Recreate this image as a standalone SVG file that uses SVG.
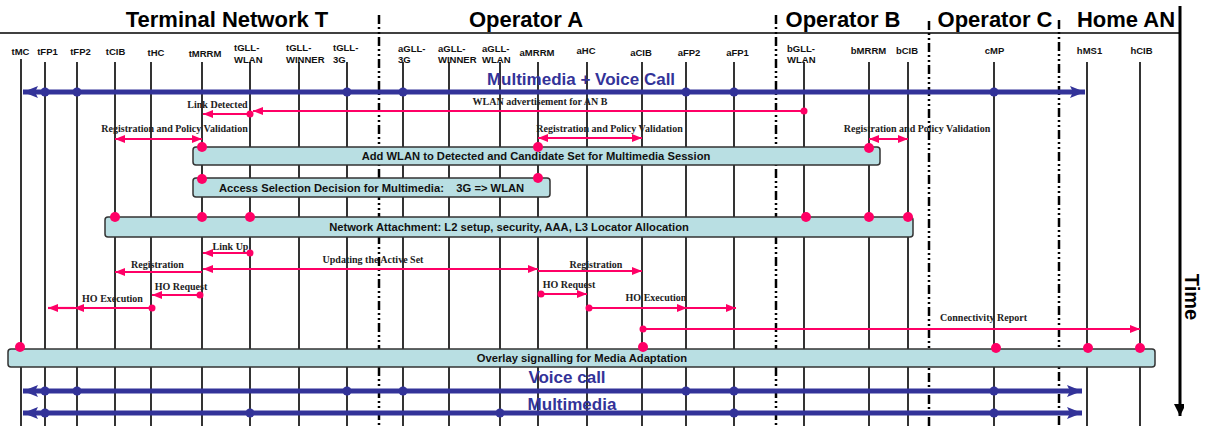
<svg xmlns="http://www.w3.org/2000/svg" width="1207" height="428" viewBox="0 0 1207 428">
<style>
.title{font-family:"Liberation Sans",Arial,sans-serif;font-weight:bold;font-size:22px;fill:#000}
.ll{font-family:"Liberation Sans",Arial,sans-serif;font-weight:bold;font-size:9.5px;fill:#111}
.life{stroke:#000;stroke-width:1.6;fill:none}
.div{stroke:#000;stroke-width:2.5;stroke-dasharray:9 3 2 3 2 3;fill:none}
.box{fill:#B9DFE3;stroke:#333;stroke-width:1.5}
.bt{font-family:"Liberation Sans",Arial,sans-serif;font-weight:bold;font-size:11.2px;fill:#111;text-anchor:middle;white-space:pre}
.msg{stroke:#FF0066;stroke-width:2.2;fill:none}
.ml{font-family:"Liberation Serif","Times New Roman",serif;font-weight:bold;font-size:10px;fill:#222;text-anchor:middle}
.dot{fill:#FF0066}
.blue{stroke:#333399;stroke-width:5;fill:none}
.bdot{fill:#333399}
.bl{font-family:"Liberation Sans",Arial,sans-serif;font-weight:bold;font-size:17px;fill:#333399;text-anchor:middle}
</style>
<defs>
<marker id="ah" markerUnits="userSpaceOnUse" viewBox="0 0 10 8" refX="10" refY="4" markerWidth="10" markerHeight="8" orient="auto-start-reverse"><path d="M0,0 L10,4 L0,8 z" fill="#FF0066"/></marker>
<marker id="bh" markerUnits="userSpaceOnUse" viewBox="0 0 15 12" refX="15" refY="6" markerWidth="15" markerHeight="12" orient="auto-start-reverse"><path d="M0,0 L15,6 L0,12 L3,6 z" fill="#333399"/></marker>
<marker id="th" markerUnits="userSpaceOnUse" viewBox="0 0 10 12" refX="6" refY="12" markerWidth="10" markerHeight="12" orient="0"><path d="M0,0 L12,0 L6,12 z" fill="#000"/></marker>
</defs>

<g id="header">
<line x1="0" y1="33" x2="1180" y2="33" stroke="#000" stroke-width="1.5"/>
<text class="title" x="227" y="27" text-anchor="middle">Terminal Network T</text>
<text class="title" x="526" y="27" text-anchor="middle">Operator A</text>
<text class="title" x="843" y="27" text-anchor="middle">Operator B</text>
<text class="title" x="995" y="27" text-anchor="middle">Operator C</text>
<text class="title" x="1126" y="27" text-anchor="middle">Home AN</text>
</g>

<g id="dividers">
<line class="div" x1="379" y1="15" x2="379" y2="428"/>
<line class="div" x1="776" y1="15" x2="776" y2="428"/>
<line class="div" x1="929" y1="21" x2="929" y2="428"/>
<line class="div" x1="1059" y1="20" x2="1059" y2="428"/>
</g>

<g id="time-axis">
<line x1="1180" y1="6" x2="1180" y2="416" stroke="#000" stroke-width="3" marker-end="url(#th)"/>
<text transform="translate(1185,297) rotate(90)" text-anchor="middle" font-family="Liberation Sans, Arial, sans-serif" font-weight="bold" font-size="20">Time</text>
</g>

<g id="lifelines">
<g id="tMC"><text class="ll" x="20.5" y="55" text-anchor="middle">tMC</text><line class="life" x1="21" y1="59" x2="21" y2="426"/></g>
<g id="tFP1"><text class="ll" x="47.5" y="55" text-anchor="middle">tFP1</text><line class="life" x1="45" y1="62" x2="45" y2="426"/></g>
<g id="tFP2"><text class="ll" x="80.5" y="55" text-anchor="middle">tFP2</text><line class="life" x1="77" y1="62" x2="77" y2="426"/></g>
<g id="tCIB"><text class="ll" x="115.5" y="55" text-anchor="middle">tCIB</text><line class="life" x1="115" y1="62" x2="115" y2="426"/></g>
<g id="tHC"><text class="ll" x="156" y="56" text-anchor="middle">tHC</text><line class="life" x1="151" y1="62" x2="151" y2="426"/></g>
<g id="tMRRM"><text class="ll" x="205" y="57" text-anchor="middle">tMRRM</text><line class="life" x1="202" y1="62" x2="202" y2="426"/></g>
<g id="tGLL-WLAN"><text class="ll" x="234" y="51">tGLL-</text><text class="ll" x="234" y="63">WLAN</text><line class="life" x1="250" y1="62" x2="250" y2="426"/></g>
<g id="tGLL-WINNER"><text class="ll" x="286" y="51">tGLL-</text><text class="ll" x="286" y="63">WINNER</text><line class="life" x1="299" y1="62" x2="299" y2="426"/></g>
<g id="tGLL-3G"><text class="ll" x="333" y="51">tGLL-</text><text class="ll" x="333" y="63">3G</text><line class="life" x1="347" y1="62" x2="347" y2="426"/></g>
<g id="aGLL-3G"><text class="ll" x="398" y="52">aGLL-</text><text class="ll" x="398" y="63">3G</text><line class="life" x1="403" y1="62" x2="403" y2="426"/></g>
<g id="aGLL-WINNER"><text class="ll" x="438" y="52">aGLL-</text><text class="ll" x="438" y="63">WINNER</text><line class="life" x1="449" y1="62" x2="449" y2="426"/></g>
<g id="aGLL-WLAN"><text class="ll" x="482" y="52">aGLL-</text><text class="ll" x="482" y="63">WLAN</text><line class="life" x1="500" y1="62" x2="500" y2="426"/></g>
<g id="aMRRM"><text class="ll" x="537" y="56" text-anchor="middle">aMRRM</text><line class="life" x1="538" y1="62" x2="538" y2="426"/></g>
<g id="aHC"><text class="ll" x="586" y="54" text-anchor="middle">aHC</text><line class="life" x1="587" y1="62" x2="587" y2="426"/></g>
<g id="aCIB"><text class="ll" x="641" y="56" text-anchor="middle">aCIB</text><line class="life" x1="642" y1="62" x2="642" y2="426"/></g>
<g id="aFP2"><text class="ll" x="689" y="56" text-anchor="middle">aFP2</text><line class="life" x1="686" y1="62" x2="686" y2="426"/></g>
<g id="aFP1"><text class="ll" x="737.5" y="56" text-anchor="middle">aFP1</text><line class="life" x1="734" y1="62" x2="734" y2="426"/></g>
<g id="bGLL-WLAN"><text class="ll" x="787" y="52">bGLL-</text><text class="ll" x="787" y="63">WLAN</text><line class="life" x1="804" y1="62" x2="804" y2="426"/></g>
<g id="bMRRM"><text class="ll" x="868.5" y="54" text-anchor="middle">bMRRM</text><line class="life" x1="869" y1="62" x2="869" y2="426"/></g>
<g id="bCIB"><text class="ll" x="907" y="54" text-anchor="middle">bCIB</text><line class="life" x1="908" y1="62" x2="908" y2="426"/></g>
<g id="cMP"><text class="ll" x="994.5" y="54" text-anchor="middle">cMP</text><line class="life" x1="994" y1="62" x2="994" y2="426"/></g>
<g id="hMS1"><text class="ll" x="1089.5" y="54" text-anchor="middle">hMS1</text><line class="life" x1="1087" y1="62" x2="1087" y2="426"/></g>
<g id="hCIB"><text class="ll" x="1141.5" y="54" text-anchor="middle">hCIB</text><line class="life" x1="1140" y1="62" x2="1140" y2="426"/></g>
</g>

<g id="box-add-wlan">
<rect class="box" x="193" y="147" width="687" height="18" rx="3"/>
<text class="bt" x="536" y="160">Add WLAN to Detected and Candidate Set for Multimedia Session</text>
</g>
<g id="box-access-selection">
<rect class="box" x="193" y="178" width="357" height="19" rx="3"/>
<text class="bt" x="371.5" y="192">Access Selection Decision for Multimedia:    3G =&gt; WLAN</text>
</g>
<g id="box-network-attachment">
<rect class="box" x="105" y="217" width="808" height="20" rx="3"/>
<text class="bt" x="509" y="231">Network Attachment: L2 setup, security, AAA, L3 Locator Allocation</text>
</g>
<g id="box-overlay">
<rect class="box" x="8" y="349" width="1147" height="18" rx="3"/>
<text class="bt" x="582" y="362">Overlay signalling for Media Adaptation</text>
</g>

<g id="connectors">
<!-- blue bearer flows -->
<line class="blue" x1="23" y1="92" x2="1085" y2="92" marker-start="url(#bh)" marker-end="url(#bh)"/>
<line class="blue" x1="23" y1="391" x2="1082" y2="391" marker-start="url(#bh)" marker-end="url(#bh)"/>
<line class="blue" x1="23" y1="413" x2="1082" y2="413" marker-start="url(#bh)" marker-end="url(#bh)"/>
<g class="bdot">
<circle cx="45" cy="92" r="4.5"/><circle cx="77" cy="92" r="4.5"/><circle cx="347" cy="92" r="4.5"/><circle cx="403" cy="92" r="4.5"/><circle cx="686" cy="92" r="4.5"/><circle cx="734" cy="92" r="4.5"/><circle cx="994" cy="92" r="4.5"/>
<circle cx="45" cy="391" r="4.5"/><circle cx="77" cy="391" r="4.5"/><circle cx="347" cy="391" r="4.5"/><circle cx="403" cy="391" r="4.5"/><circle cx="686" cy="391" r="4.5"/><circle cx="734" cy="391" r="4.5"/><circle cx="994" cy="391" r="4.5"/>
<circle cx="45" cy="413" r="4.5"/><circle cx="250" cy="413" r="4.5"/><circle cx="500" cy="413" r="4.5"/><circle cx="734" cy="413" r="4.5"/><circle cx="994" cy="413" r="4.5"/>
</g>
<text class="bl" x="581" y="85">Multimedia + Voice Call</text>
<text class="bl" x="567" y="383">Voice call</text>
<text class="bl" x="572" y="410">Multimedia</text>

<!-- red signalling -->
<line class="msg" x1="804" y1="111" x2="253" y2="111" marker-end="url(#ah)"/>
<circle class="dot" cx="804" cy="111" r="3.5"/>
<text class="ml" x="540" y="105">WLAN advertisement for AN B</text>

<line class="msg" x1="250" y1="114" x2="203" y2="114" marker-end="url(#ah)"/>
<circle class="dot" cx="250" cy="114" r="3.5"/>
<text class="ml" x="217.5" y="108">Link Detected</text>

<line class="msg" x1="115" y1="139" x2="202" y2="139" marker-start="url(#ah)" marker-end="url(#ah)"/>
<text class="ml" x="174.5" y="132">Registration and Policy Validation</text>

<line class="msg" x1="538" y1="138" x2="642" y2="138" marker-start="url(#ah)" marker-end="url(#ah)"/>
<text class="ml" x="609.5" y="132">Registration and Policy Validation</text>

<line class="msg" x1="869" y1="139" x2="908" y2="139" marker-start="url(#ah)" marker-end="url(#ah)"/>
<text class="ml" x="917" y="132">Registration and Policy Validation</text>

<line class="msg" x1="250" y1="253" x2="203" y2="253" marker-end="url(#ah)"/>
<circle class="dot" cx="250" cy="253" r="3.5"/>
<text class="ml" x="230.5" y="250">Link Up</text>

<line class="msg" x1="202" y1="272" x2="115" y2="272" marker-end="url(#ah)"/>
<text class="ml" x="157.5" y="268">Registration</text>

<line class="msg" x1="203" y1="269" x2="538" y2="269" marker-start="url(#ah)" marker-end="url(#ah)"/>
<text class="ml" x="373" y="263">Updating the Active Set</text>

<line class="msg" x1="538" y1="271" x2="642" y2="271" marker-end="url(#ah)"/>
<text class="ml" x="596" y="268">Registration</text>

<line class="msg" x1="200" y1="295" x2="152" y2="295" marker-end="url(#ah)"/>
<circle class="dot" cx="200" cy="295" r="3.5"/>
<text class="ml" x="181" y="290">HO Request</text>

<line class="msg" x1="541" y1="294" x2="587" y2="294" marker-end="url(#ah)"/>
<circle class="dot" cx="541" cy="294" r="3.5"/>
<text class="ml" x="569" y="288">HO Request</text>

<line class="msg" x1="152" y1="308" x2="74" y2="308" marker-end="url(#ah)"/>
<line class="msg" x1="74" y1="308" x2="48" y2="308" marker-end="url(#ah)"/>
<circle class="dot" cx="152" cy="308" r="3.5"/>
<text class="ml" x="112.5" y="302">HO Execution</text>

<line class="msg" x1="589" y1="308" x2="687" y2="308" marker-end="url(#ah)"/>
<line class="msg" x1="687" y1="308" x2="736" y2="308" marker-end="url(#ah)"/>
<circle class="dot" cx="589" cy="308" r="3.5"/>
<text class="ml" x="656" y="301">HO Execution</text>

<line class="msg" x1="643" y1="329" x2="1140" y2="329" marker-end="url(#ah)"/>
<circle class="dot" cx="643" cy="329" r="3.5"/>
<text class="ml" x="983.5" y="321">Connectivity Report</text>

<!-- box attachment dots -->
<g class="dot">
<circle cx="202" cy="147" r="5"/><circle cx="538" cy="147" r="5"/><circle cx="869" cy="148" r="5"/>
<circle cx="202" cy="179" r="5"/><circle cx="538" cy="178" r="5"/>
<circle cx="115" cy="217" r="5"/><circle cx="202" cy="217" r="5"/><circle cx="250" cy="217" r="5"/><circle cx="806" cy="217" r="5"/><circle cx="869" cy="217" r="5"/><circle cx="908" cy="217" r="5"/>
<circle cx="20" cy="347" r="5"/><circle cx="643" cy="347" r="5"/><circle cx="996" cy="348" r="5"/><circle cx="1088" cy="348" r="5"/><circle cx="1140" cy="348" r="5"/>
</g>
</g>
</svg>
